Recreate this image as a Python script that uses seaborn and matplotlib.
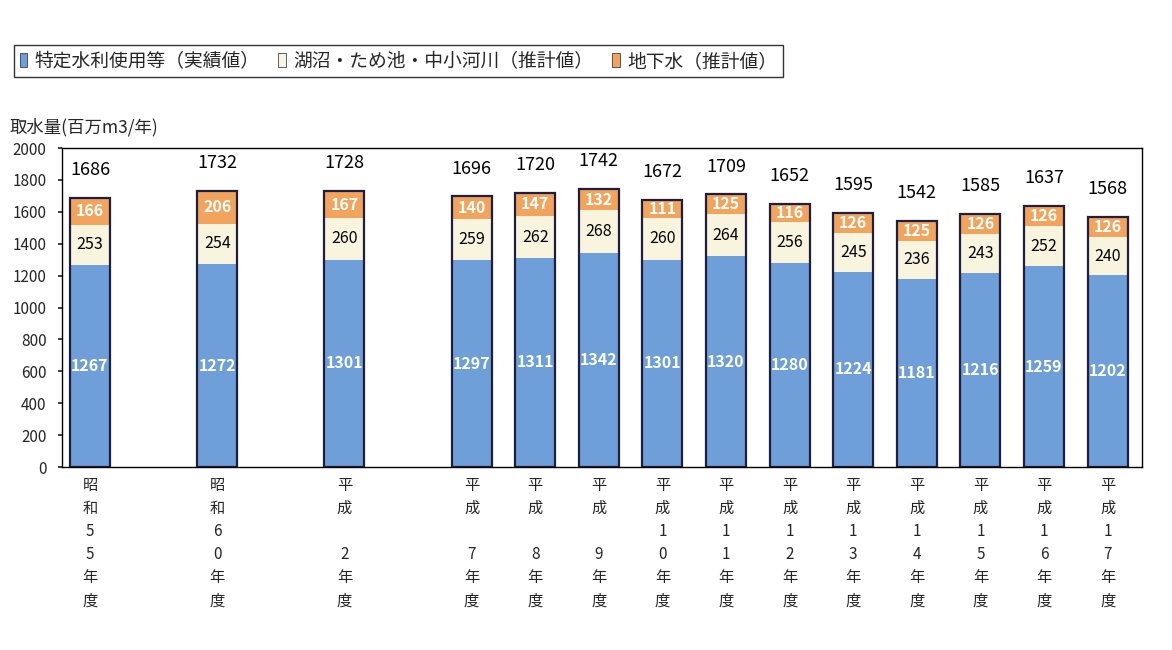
import numpy as np
import pandas as pd
import matplotlib
matplotlib.use("Agg")
import matplotlib.pyplot as plt
import seaborn as sns
from matplotlib.patches import Patch

# ---- data ----
categories = ["昭\n和\n5\n5\n年\n度", "昭\n和\n6\n0\n年\n度", "平\n成\n \n2\n年\n度",
              "平\n成\n \n7\n年\n度", "平\n成\n \n8\n年\n度", "平\n成\n \n9\n年\n度",
              "平\n成\n1\n0\n年\n度", "平\n成\n1\n1\n年\n度", "平\n成\n1\n2\n年\n度",
              "平\n成\n1\n3\n年\n度", "平\n成\n1\n4\n年\n度", "平\n成\n1\n5\n年\n度",
              "平\n成\n1\n6\n年\n度", "平\n成\n1\n7\n年\n度"]
slot = [0, 2, 4, 6, 7, 8, 9, 10, 11, 12, 13, 14, 15, 16]
tokutei = [1267, 1272, 1301, 1297, 1311, 1342, 1301, 1320, 1280, 1224, 1181, 1216, 1259, 1202]
kosho = [253, 254, 260, 259, 262, 268, 260, 264, 256, 245, 236, 243, 252, 240]
chika = [166, 206, 167, 140, 147, 132, 111, 125, 116, 126, 125, 126, 126, 126]
totals = [1686, 1732, 1728, 1696, 1720, 1742, 1672, 1709, 1652, 1595, 1542, 1585, 1637, 1568]
series_names = ["特定水利使用等（実績値）", "湖沼・ため池・中小河川（推計値）", "地下水（推計値）"]
y_label = "取水量(百万m3/年)"

sns.set_theme(style="white")
plt.rcParams['font.family'] = ['Noto Sans CJK JP', 'DejaVu Sans']

c_blue = "#6e9fd8"
c_cream = "#f8f4de"
c_orange = "#f2a45c"
c_edge = "#1e1e40"

df = pd.DataFrame({"x": slot, "blue": tokutei, "cream": kosho, "orange": chika, "total": totals})
df["mid"] = df["blue"] + df["cream"]
df["top"] = df["mid"] + df["orange"]

fig = plt.figure(figsize=(11.72, 6.5), dpi=100)
ax = fig.add_axes([0.0529, 0.2815, 0.9215, 0.4908])

w = 0.63
sns.barplot(data=df, x="x", y="top", native_scale=True, color=c_orange, saturation=1,
            width=w, linewidth=0, ax=ax, errorbar=None)
sns.barplot(data=df, x="x", y="mid", native_scale=True, color=c_cream, saturation=1,
            width=w, linewidth=0, ax=ax, errorbar=None)
sns.barplot(data=df, x="x", y="blue", native_scale=True, color=c_blue, saturation=1,
            width=w, linewidth=0, ax=ax, errorbar=None)
sns.barplot(data=df, x="x", y="top", native_scale=True, color=c_edge, saturation=1,
            width=w, linewidth=1.6, fill=False, ax=ax, errorbar=None)

for _, r in df.iterrows():
    ax.text(r["x"], r["blue"] / 2, f"{int(r['blue'])}", ha="center", va="center",
            color="white", fontsize=11.5, fontweight="bold")
    ax.text(r["x"], r["blue"] + r["cream"] / 2, f"{int(r['cream'])}", ha="center", va="center",
            color="black", fontsize=11.5)
    ax.text(r["x"], r["mid"] + r["orange"] / 2, f"{int(r['orange'])}", ha="center", va="center",
            color="white", fontsize=11.5, fontweight="bold")
    ax.text(r["x"], r["total"] + 175, f"{int(r['total'])}", ha="center", va="center",
            color="black", fontsize=13)

ax.set_xlim(-0.44, 16.54)
ax.set_ylim(0, 2000)
ax.set_yticks(np.arange(0, 2001, 200))
ax.tick_params(axis="y", labelsize=11, length=3, direction="out", left=True, pad=8)
ax.set_xticks(slot)
ax.set_xticklabels(categories, fontsize=11, linespacing=1.47)
ax.tick_params(axis="x", length=0, pad=7)
ax.set_xlabel("")
ax.set_ylabel("")
for s in ax.spines.values():
    s.set_color("black")
    s.set_linewidth(1.0)

fig.text(0.008, 0.805, y_label, fontsize=12.5, ha="left", va="center")

handles = [Patch(facecolor=c_blue, edgecolor=c_edge, linewidth=0.5),
           Patch(facecolor=c_cream, edgecolor=c_edge, linewidth=0.5),
           Patch(facecolor=c_orange, edgecolor=c_edge, linewidth=0.5)]
leg = fig.legend(handles, series_names, loc="upper left", bbox_to_anchor=(0.004, 0.945),
                 ncol=3, fontsize=13.5, frameon=True, fancybox=False, edgecolor="black",
                 handlelength=0.4, handleheight=0.8, handletextpad=0.4, columnspacing=1.0,
                 borderpad=0.3)
leg.get_frame().set_linewidth(1.0)

fig.savefig("out.png", dpi=100, facecolor="white")
